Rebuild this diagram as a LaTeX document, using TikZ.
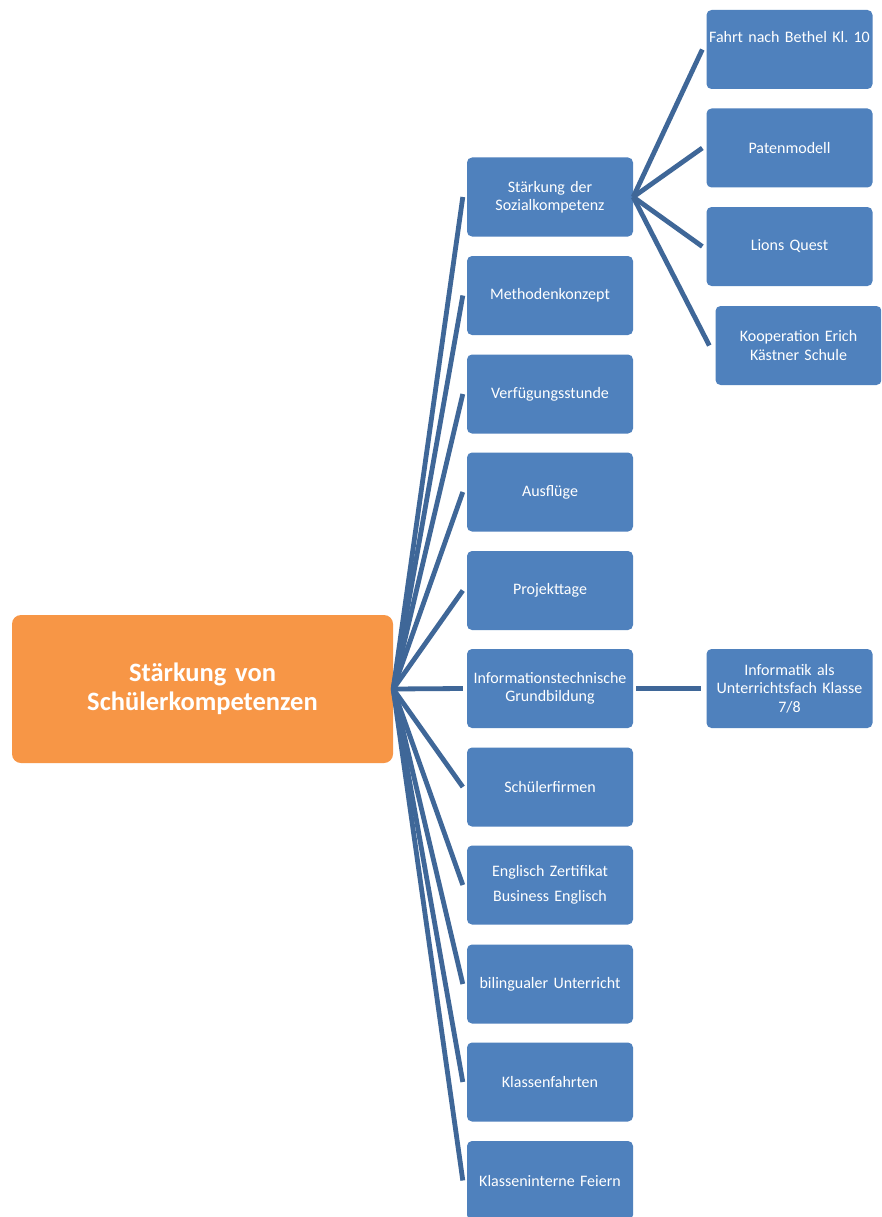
\documentclass[tikz,border=0pt]{standalone}
\usepackage{fontspec}
\setmainfont{Carlito}
\frenchspacing
\definecolor{boxblue}{RGB}{79,129,189}
\definecolor{rootorange}{RGB}{247,150,70}
\definecolor{connblue}{RGB}{63,103,152}
\tikzset{
  bluebox/.style={fill=boxblue, draw=none, rounded corners=5pt, minimum width=166pt, minimum height=79pt,
    text width=164pt, align=center, inner sep=0pt, text=white, font=\fontsize{16}{18.5}\selectfont},
  rootbox/.style={fill=rootorange, draw=none, rounded corners=9pt, minimum width=381pt, minimum height=148pt,
    text width=370pt, align=center, inner sep=0pt, text=white, font=\fontsize{26.5}{29.5}\selectfont\bfseries},
  conn/.style={draw=connblue, line width=4.8pt, line cap=butt}
}
\begin{document}
\begin{tikzpicture}[x=1pt,y=-1pt]
\clip (0,0) rectangle (881,1217);
\fill[white] (0,0) rectangle (881,1217);
\node[rootbox] (root) at (202.5,689) {Stärkung von\\Schülerkompetenzen};
\node[bluebox] (s1) at (550,197) {Stärkung der\\Sozialkompetenz};
\node[bluebox] (s2) at (550,295.5) {Methodenkonzept};
\node[bluebox] (s3) at (550,394) {Verfügungsstunde};
\node[bluebox] (s4) at (550,492) {Ausflüge};
\node[bluebox] (s5) at (550,590.5) {Projekttage};
\node[bluebox] (s6) at (550,688.5) {Informationstechnische\\Grundbildung};
\node[bluebox] (s7) at (550,787) {Schülerfirmen};
\node[bluebox] (s8) at (550,885) {Englisch Zertifikat\\[6.5pt]Business Englisch};
\node[bluebox] (s9) at (550,984) {bilingualer Unterricht};
\node[bluebox] (s10) at (550,1082) {Klassenfahrten};
\node[bluebox] (s11) at (550,1180.5) {Klasseninterne Feiern};
\node[bluebox] (f1) at (789.5,49.5) {Fahrt nach Bethel Kl. 10\\[6.5pt]\mbox{}};
\node[bluebox] (f2) at (789.5,148) {Patenmodell};
\node[bluebox] (f3) at (789.5,246.5) {Lions Quest};
\node[bluebox] (f4) at (798.5,345.5) {Kooperation Erich\\Kästner Schule};
\node[bluebox] (g1) at (789.5,688.5) {Informatik als\\Unterrichtsfach Klasse\\7/8};
\foreach \i in {1,...,11}{
  \draw[conn] (root.east) -- ([xshift=-4pt]s\i.west);
}
\foreach \i in {1,2,3}{
  \draw[conn] (s1.east) -- ([xshift=-4pt]f\i.west);
}
\draw[conn] (s1.east) -- ([xshift=-6pt]f4.west);
\draw[conn] ([xshift=3pt]s6.east) -- ([xshift=-5pt]g1.west);
\end{tikzpicture}
\end{document}
